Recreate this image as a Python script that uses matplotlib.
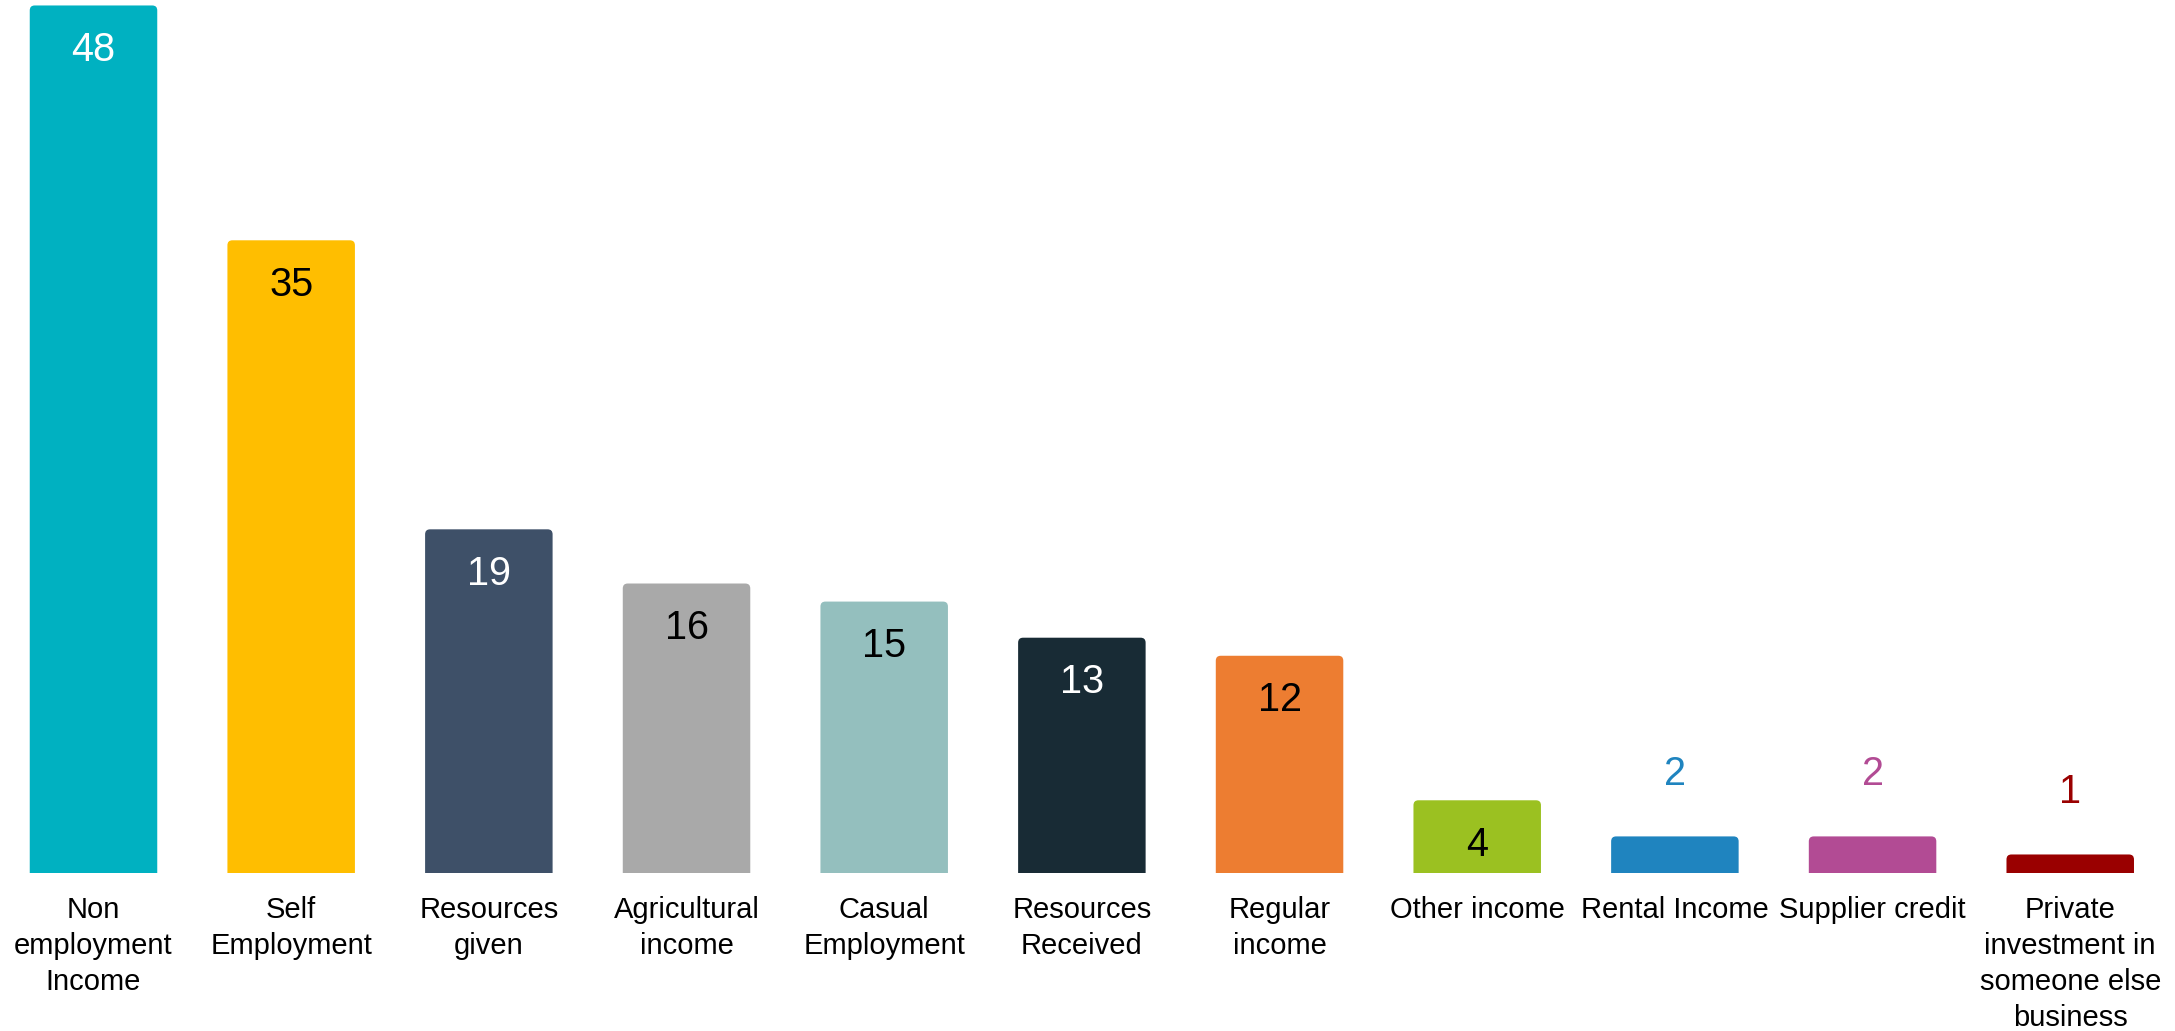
import numpy as np
import matplotlib
matplotlib.use("Agg")
import matplotlib.pyplot as plt
from matplotlib.patches import FancyBboxPatch

plt.rcParams["font.family"] = ["Liberation Sans", "DejaVu Sans"]

# income sources, share of respondents
categories = [
    "Non\nemployment\nIncome", "Self\nEmployment", "Resources\ngiven",
    "Agricultural\nincome", "Casual\nEmployment", "Resources\nReceived",
    "Regular\nincome", "Other income", "Rental Income", "Supplier credit",
    "Private\ninvestment in\nsomeone else\nbusiness",
]
values = [48, 35, 19, 16, 15, 13, 12, 4, 2, 2, 1]
colors = ["#00B1C1", "#FFBE00", "#3E5068", "#A9A9A9", "#94BFBE", "#182B35",
          "#ED7D31", "#9BC121", "#1F84BF", "#B24B94", "#9A0000"]
# label colour when the number sits inside the bar
inside_text = ["white", "black", "white", "black", "black", "white",
               "black", "black", None, None, None]

fig = plt.figure(figsize=(21.75, 10.31), dpi=100)
ax = fig.add_axes([0, 0.1537, 1, 0.841])

x = np.arange(len(values))
bars = ax.bar(x, values, width=0.645, color=colors)

# swap the plain rectangles for ones with slightly rounded tops
for rect, c in zip(bars, colors):
    rect.set_visible(False)
    rb = FancyBboxPatch((rect.get_x(), rect.get_y() - 0.6), rect.get_width(),
                        rect.get_height() + 0.6,
                        boxstyle="round,pad=0,rounding_size=0.025",
                        mutation_aspect=11, fc=c, ec="none", clip_on=True)
    ax.add_patch(rb)

for xi, v, c, tc in zip(x, values, colors, inside_text):
    if tc is not None:
        ax.annotate(str(v), (xi, v), xytext=(0, -32), textcoords="offset points",
                    ha="center", va="center", fontsize=28.5, color=tc)
    else:
        ax.annotate(str(v), (xi, v), xytext=(0, 45), textcoords="offset points",
                    ha="center", va="center", fontsize=28.5, color=c)

ax.set_xlim(-0.473, 10.53)
ax.set_ylim(0, 48)
ax.set_xticks(x)
ax.set_xticklabels(categories, fontsize=21, linespacing=1.36)
ax.tick_params(axis="x", length=0, pad=17)
ax.set_yticks([])
for s in ax.spines.values():
    s.set_visible(False)

fig.savefig("out.png", dpi=100)
